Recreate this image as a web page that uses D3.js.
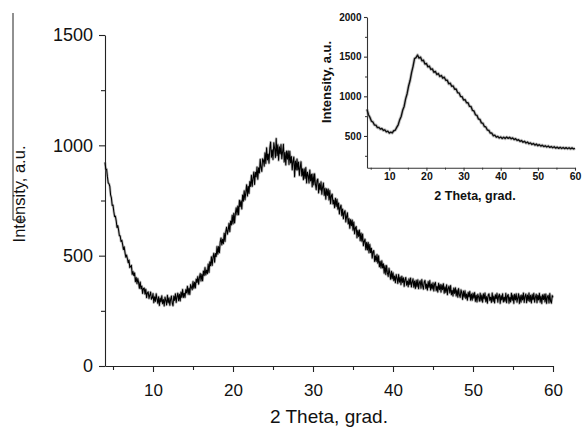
<!DOCTYPE html>
<html>
<head>
<meta charset="utf-8">
<script src="https://cdn.jsdelivr.net/npm/d3@7/dist/d3.min.js"></script>
<style>
  html, body { margin: 0; padding: 0; background: #fff; }
  svg { display: block; font-family: "Liberation Sans", Arial, sans-serif; }
</style>
</head>
<body>
<svg id="chart" width="583" height="427"></svg>
<script>
// ---------- data ----------
// main pattern: 2 theta from 4 to 60, step 0.1 (one row = one degree)
const mainStart = 4;
const mainStep = 0.1;
const mainValues = [
  923, 892, 892, 858, 830, 826, 814, 775, 762, 728,
  729, 700, 677, 679, 658, 628, 636, 616, 590, 590,
  564, 570, 551, 528, 540, 514, 493, 503, 486, 468,
  480, 446, 451, 456, 415, 428, 410, 422, 382, 401,
  373, 396, 378, 352, 381, 350, 362, 329, 351, 353,
  326, 348, 310, 332, 336, 306, 321, 335, 303, 308,
  328, 287, 314, 293, 327, 304, 284, 314, 274, 308,
  290, 318, 282, 301, 272, 312, 297, 277, 320, 286,
  309, 275, 302, 317, 286, 273, 317, 297, 327, 288,
  314, 330, 296, 325, 295, 335, 311, 347, 311, 330,
  311, 346, 331, 361, 325, 353, 324, 369, 357, 346,
  383, 352, 379, 354, 394, 379, 405, 371, 400, 419,
  385, 416, 386, 430, 410, 446, 413, 435, 418, 462,
  424, 472, 454, 495, 456, 493, 511, 470, 510, 496,
  541, 507, 541, 513, 561, 580, 549, 574, 554, 602,
  564, 609, 629, 597, 616, 647, 609, 657, 639, 683,
  644, 692, 648, 692, 717, 685, 725, 686, 751, 722,
  749, 712, 775, 747, 794, 753, 786, 821, 770, 815,
  782, 836, 814, 864, 814, 850, 879, 823, 878, 857,
  902, 846, 898, 875, 937, 899, 882, 939, 932, 905,
  966, 918, 989, 934, 961, 919, 987, 1015, 946, 980,
  936, 1012, 987, 945, 1031, 953, 1003, 932, 993, 961,
  1004, 939, 972, 1005, 925, 969, 911, 974, 937, 974,
  913, 973, 920, 949, 889, 928, 947, 858, 929, 888,
  938, 888, 924, 864, 900, 926, 861, 894, 844, 894,
  850, 899, 829, 878, 864, 829, 888, 839, 869, 812,
  870, 820, 871, 825, 799, 842, 847, 784, 827, 798,
  835, 778, 811, 829, 773, 805, 756, 803, 773, 802,
  752, 795, 735, 772, 779, 734, 752, 717, 760, 723,
  756, 710, 739, 689, 719, 729, 681, 711, 667, 697,
  704, 653, 678, 694, 644, 668, 624, 664, 636, 661,
  615, 652, 599, 626, 632, 581, 615, 587, 616, 568,
  603, 565, 598, 545, 566, 575, 527, 560, 526, 560,
  513, 551, 514, 534, 489, 519, 523, 474, 499, 474,
  505, 466, 499, 450, 474, 444, 477, 444, 463, 421,
  455, 415, 455, 422, 406, 443, 420, 393, 429, 395,
  423, 387, 408, 377, 414, 398, 374, 414, 380, 403,
  369, 407, 379, 400, 361, 392, 401, 366, 385, 359,
  395, 369, 399, 358, 380, 395, 357, 385, 351, 388,
  358, 391, 350, 378, 386, 352, 392, 363, 348, 381,
  388, 351, 371, 344, 383, 356, 387, 344, 372, 349,
  377, 340, 372, 379, 341, 361, 335, 375, 346, 369,
  335, 368, 346, 373, 330, 359, 333, 368, 323, 352,
  362, 331, 365, 323, 343, 317, 353, 329, 354, 317,
  345, 312, 351, 321, 311, 345, 331, 302, 340, 312,
  341, 306, 326, 298, 334, 313, 338, 298, 326, 298,
  330, 307, 333, 293, 321, 290, 325, 313, 294, 330,
  295, 322, 289, 327, 304, 331, 291, 315, 285, 322,
  327, 297, 312, 288, 331, 292, 317, 286, 323, 305,
  329, 289, 316, 325, 284, 319, 299, 327, 290, 312,
  293, 329, 287, 318, 324, 285, 312, 290, 330, 297,
  322, 284, 325, 299, 327, 289, 310, 327, 283, 319,
  289, 322, 299, 331, 288, 316, 326, 287, 322, 296,
  331, 292, 320, 286, 324, 300, 329, 289, 312, 325,
  287, 321, 299, 329, 289, 317, 283, 323, 301, 325,
  290, 326, 284, 314, 320, 286, 328, 293, 285, 319,
  311
];

// inset pattern: 2 theta from 4 to 60, step 0.4
const insetStart = 4;
const insetStep = 0.4;
const insetValues = [
  836, 768, 734, 686, 676,  639, 637, 606, 609, 586,
  594, 570, 578, 552, 561,  537, 549, 538, 566, 572,
  608, 641, 703, 746, 823,  873, 967, 1033, 1130, 1199,
  1298, 1378, 1475, 1488, 1521,  1482, 1494, 1447, 1456, 1407,
  1414, 1371, 1380, 1339, 1346,  1303, 1314, 1275, 1287, 1250,
  1263, 1229, 1241, 1202, 1204,  1158, 1166, 1126, 1131, 1089,
  1092, 1045, 1043, 998, 996,  954, 958, 918, 919, 873,
  871, 822, 815, 767, 760,  714, 709, 665, 660, 619,
  614, 575, 571, 536, 537,  503, 511, 485, 495, 474,
  487, 469, 484, 467, 486,  470, 483, 464, 476, 455,
  466, 444, 453, 432, 443,  422, 433, 411, 423, 402,
  413, 393, 405, 385, 398,  378, 391, 372, 384, 366,
  377, 361, 374, 356, 367,  351, 364, 347, 359, 344,
  357, 342, 355, 341, 353,  339, 352, 337, 350, 336,
  345
];

const mainXTicks = [10, 20, 30, 40, 50, 60];
const mainXMinor = [5, 15, 25, 35, 45, 55];
const mainYTicks = [0, 500, 1000, 1500];
const mainYMinor = [250, 750, 1250];
const insetXTicks = [10, 20, 30, 40, 50, 60];
const insetXMinor = [5, 15, 25, 35, 45, 55];
const insetYTicks = [500, 1000, 1500, 2000];
const insetYMinor = [250, 750, 1250, 1750];

const xTitle = "2 Theta, grad.";
const yTitle = "Intensity, a.u.";

// ---------- drawing ----------
const svg = d3.select("#chart");
const FONT = '"Liberation Sans", Arial, sans-serif';

function toPoints(start, step, vals) {
  return vals.map((v, i) => ({ x: +(start + i * step).toFixed(2), y: v }));
}

function styleAxis(g, fontSize, weight, color) {
  g.select(".domain").attr("stroke", color).attr("stroke-width", 1.1);
  g.selectAll(".tick line").attr("stroke", color).attr("stroke-width", 1.1);
  g.selectAll(".tick text")
    .attr("fill", "#111")
    .style("font-size", fontSize + "px")
    .style("font-weight", weight)
    .style("font-family", FONT);
}

// main chart
const x = d3.scaleLinear().domain([4, 60]).range([105, 553]);
const y = d3.scaleLinear().domain([0, 1500]).range([366, 35]);

const gx = svg.append("g").attr("transform", "translate(0,366)")
  .call(d3.axisBottom(x).tickValues(mainXTicks).tickSize(6).tickSizeOuter(0).tickPadding(12).tickFormat(d3.format("d")));
styleAxis(gx, 17, "normal", "#222");
const gxm = svg.append("g").attr("transform", "translate(0,366)")
  .call(d3.axisBottom(x).tickValues(mainXMinor).tickSize(4).tickSizeOuter(0).tickFormat(""));
gxm.select(".domain").remove();
gxm.selectAll(".tick line").attr("stroke", "#222").attr("stroke-width", 1.1);

const gy = svg.append("g").attr("transform", "translate(105,0)")
  .call(d3.axisLeft(y).tickValues(mainYTicks).tickSize(6).tickSizeOuter(0).tickPadding(6).tickFormat(d3.format("d")));
styleAxis(gy, 18, "normal", "#222");
const gym = svg.append("g").attr("transform", "translate(105,0)")
  .call(d3.axisLeft(y).tickValues(mainYMinor).tickSize(4).tickSizeOuter(0).tickFormat(""));
gym.select(".domain").remove();
gym.selectAll(".tick line").attr("stroke", "#222").attr("stroke-width", 1.1);

const mainPts = toPoints(mainStart, mainStep, mainValues);
const mainLine = d3.line().x(d => x(d.x)).y(d => y(d.y));
svg.append("path").datum(mainPts).attr("d", mainLine)
  .attr("fill", "none").attr("stroke", "#777").attr("stroke-opacity", 0.5)
  .attr("stroke-width", 2.6).attr("stroke-linejoin", "round");
svg.append("path").datum(mainPts).attr("d", mainLine)
  .attr("fill", "none").attr("stroke", "#000").attr("stroke-width", 1.05)
  .attr("stroke-linejoin", "round");

svg.append("text").attr("x", 329).attr("y", 423).attr("text-anchor", "middle")
  .style("font-size", "19px").style("font-family", FONT).attr("fill", "#111").text(xTitle);
svg.append("text").attr("transform", "translate(25,194) rotate(-90)").attr("text-anchor", "middle")
  .style("font-size", "16.5px").style("font-family", FONT).attr("fill", "#111").text(yTitle);

// scanning artefact lines at left edge
svg.append("path").attr("d", d3.line()([[13, 13], [13, 220], [26, 220]]))
  .attr("fill", "none").attr("stroke", "#222").attr("stroke-width", 1);

// inset chart
const xi = d3.scaleLinear().domain([4, 60]).range([367, 575]);
const yi = d3.scaleLinear().domain([100, 2000]).range([167.7, 17]);

const gxi = svg.append("g").attr("transform", "translate(0,167.7)")
  .call(d3.axisBottom(xi).tickValues(insetXTicks).tickSize(3).tickSizeOuter(0).tickPadding(2).tickFormat(d3.format("d")));
styleAxis(gxi, 10.5, "bold", "#333");
const gxim = svg.append("g").attr("transform", "translate(0,167.7)")
  .call(d3.axisBottom(xi).tickValues(insetXMinor).tickSize(2).tickSizeOuter(0).tickFormat(""));
gxim.select(".domain").remove();
gxim.selectAll(".tick line").attr("stroke", "#333");

const gyi = svg.append("g").attr("transform", "translate(367,0)")
  .call(d3.axisLeft(yi).tickValues(insetYTicks).tickSize(3).tickSizeOuter(0).tickPadding(2.5).tickFormat(d3.format("d")));
styleAxis(gyi, 10, "bold", "#333");
const gyim = svg.append("g").attr("transform", "translate(367,0)")
  .call(d3.axisLeft(yi).tickValues(insetYMinor).tickSize(2).tickSizeOuter(0).tickFormat(""));
gyim.select(".domain").remove();
gyim.selectAll(".tick line").attr("stroke", "#333");

const insetPts = toPoints(insetStart, insetStep, insetValues);
const insetLine = d3.line().x(d => xi(d.x)).y(d => yi(d.y));
svg.append("path").datum(insetPts).attr("d", insetLine)
  .attr("fill", "none").attr("stroke", "#888").attr("stroke-opacity", 0.5)
  .attr("stroke-width", 3.2).attr("stroke-linejoin", "round");
svg.append("path").datum(insetPts).attr("d", insetLine)
  .attr("fill", "none").attr("stroke", "#111").attr("stroke-width", 1.4)
  .attr("stroke-linejoin", "round");

svg.append("text").attr("x", 475).attr("y", 199.5).attr("text-anchor", "middle")
  .style("font-size", "12.5px").style("font-weight", "bold").style("font-family", FONT)
  .attr("fill", "#111").text(xTitle);
svg.append("text").attr("transform", "translate(331,82) rotate(-90)").attr("text-anchor", "middle")
  .style("font-size", "13px").style("font-weight", "bold").style("font-family", FONT)
  .attr("fill", "#111").text(yTitle);
</script>
</body>
</html>
